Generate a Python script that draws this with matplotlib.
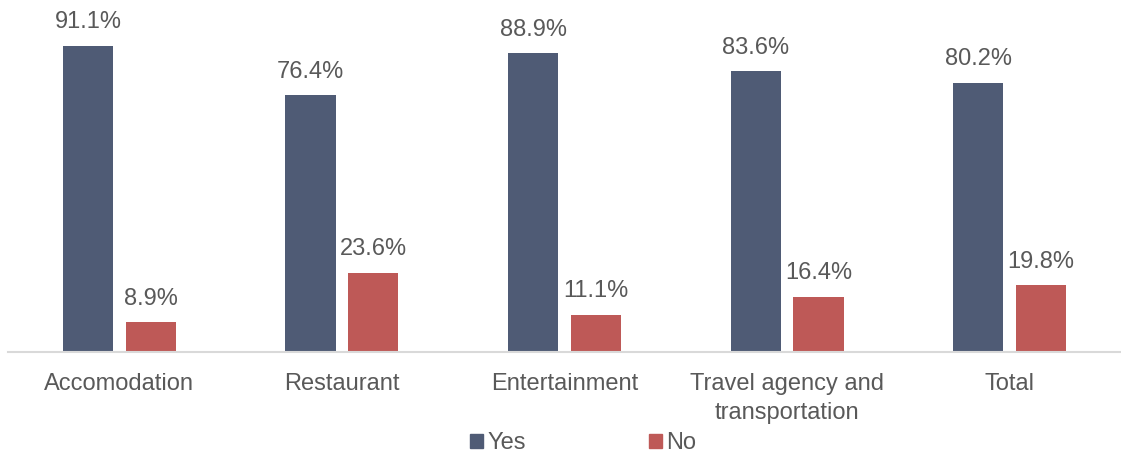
import numpy as np
import matplotlib.pyplot as plt
from matplotlib.patches import Patch

categories = ["Accomodation", "Restaurant", "Entertainment",
              "Travel agency and\ntransportation", "Total"]
yes_vals = [91.1, 76.4, 88.9, 83.6, 80.2]
no_vals = [8.9, 23.6, 11.1, 16.4, 19.8]

yes_color = "#4f5b75"
no_color = "#be5957"
text_color = "#595959"

plt.rcParams['font.family'] = ['Liberation Sans', 'DejaVu Sans']

fig = plt.figure(figsize=(11.21, 4.57), dpi=100)
ax = fig.add_axes([8 / 1121, 105 / 457, 1113 / 1121, 336 / 457])

x = np.arange(len(categories))
w = 0.225
off = 0.141
bars_yes = ax.bar(x - off, yes_vals, w, color=yes_color)
bars_no = ax.bar(x + off, no_vals, w, color=no_color)

for bars, vals in ((bars_yes, yes_vals), (bars_no, no_vals)):
    for b, v in zip(bars, vals):
        ax.annotate(f"{v:.1f}%", (b.get_x() + b.get_width() / 2, v),
                    xytext=(0, 9), textcoords="offset points",
                    ha="center", va="bottom", fontsize=17, color=text_color)

ax.set_xlim(-0.5, 4.5)
ax.set_ylim(0, 100)
ax.set_yticks([])
ax.set_xticks(x)
ax.set_xticklabels(categories, fontsize=17, color=text_color, linespacing=1.4)
ax.tick_params(axis="x", length=0, pad=15)
for s in ("top", "right", "left"):
    ax.spines[s].set_visible(False)
ax.spines["bottom"].set_color("#d9d9d9")
ax.spines["bottom"].set_linewidth(1.5)

handles = [Patch(color=yes_color, label="Yes"), Patch(color=no_color, label="No")]
leg = fig.legend(handles=handles, loc="center", bbox_to_anchor=(583 / 1121, 14 / 457),
                 ncol=2, frameon=False, fontsize=17, handlelength=0.55,
                 handleheight=0.55, handletextpad=0.2, columnspacing=5.2)
for t in leg.get_texts():
    t.set_color(text_color)

fig.savefig("out.png", dpi=100)
